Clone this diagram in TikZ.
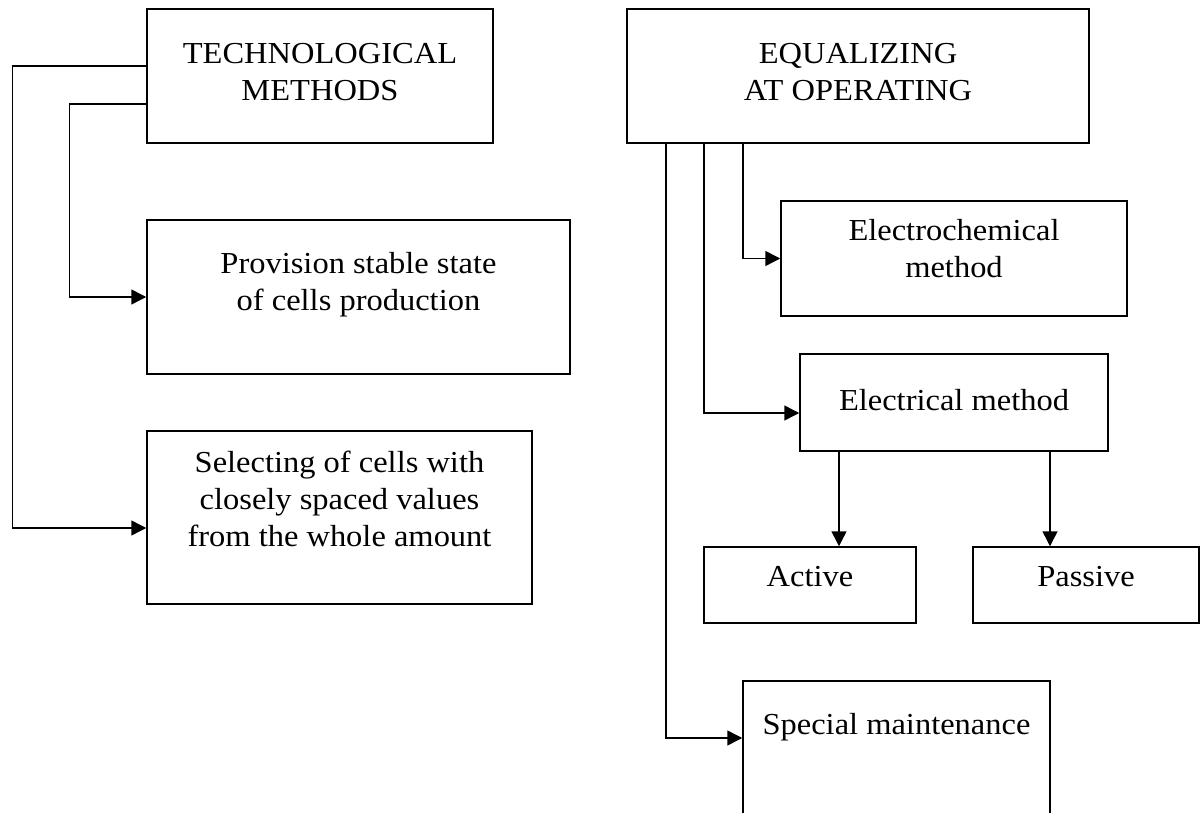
\documentclass[tikz,border=0pt]{standalone}
\usepackage{fontspec}
\setmainfont{Liberation Serif}[FakeStretch=1.065]
\usepackage{tikz}
\usetikzlibrary{arrows.meta}

\begin{document}
\begin{tikzpicture}[x=1pt,y=-1pt,line width=1.5pt,
  box/.style={draw,rectangle,inner sep=0pt},
  txt/.style={align=center,inner sep=0pt,font=\fontsize{30.5}{37}\selectfont},
  arr/.style={-{Triangle[length=15pt,width=15pt]}}]
	\useasboundingbox (0,0) rectangle (1200,813);
	\node[box,minimum width=346pt,minimum height=134pt] (tech) at (320,76) {};
	\node[txt] (techtxt) at (320,72.5) {TECHNOLOGICAL\\METHODS};
	\node[box,minimum width=462pt,minimum height=134pt] (eq) at (858,76) {};
	\node[txt] (eqtxt) at (858,72.5) {EQUALIZING\\AT OPERATING};
	\node[box,minimum width=423pt,minimum height=154pt] (prov) at (358.5,297) {};
	\node[txt] (provtxt) at (358.5,284.5) {Provision stable state\\of cells production};
	\node[box,minimum width=385pt,minimum height=173pt] (sel) at (339.5,517.5) {};
	\node[txt] (seltxt) at (339.5,498.5) {Selecting of cells with\\closely spaced values\\from the whole amount};
	\node[box,minimum width=346pt,minimum height=115pt] (elchem) at (954,258.5) {};
	\node[txt] (elchemtxt) at (954,248.5) {Electrochemical\\method};
	\node[box,minimum width=308pt,minimum height=97pt] (elec) at (954,402.5) {};
	\node[txt] (electxt) at (954,400) {Electrical method};
	\node[box,minimum width=212pt,minimum height=76pt] (act) at (810,585) {};
	\node[txt] (acttxt) at (810,577) {Active};
	\node[box,minimum width=226pt,minimum height=76pt] (pas) at (1086,585) {};
	\node[txt] (pastxt) at (1086,577) {Passive};
	\node[box,minimum width=307pt,minimum height=150pt] (spec) at (896.5,756) {};
	\node[txt] (spectxt) at (896.5,727) {Special maintenance};
	\draw[arr] ([yshift=10pt]tech.west) -- ++(-134pt,0) |- ([yshift=-10.5pt]sel.west);
	\draw[arr] ([yshift=-28pt]tech.west) -- ++(-77pt,0) |- (prov.west);
	\draw[arr] ([xshift=-115pt]eq.south) |- (elchem.west);
	\draw[arr] ([xshift=-154pt]eq.south) |- ([yshift=-10.5pt]elec.west);
	\draw[arr] ([xshift=-192pt]eq.south) |- ([yshift=18pt]spec.west);
	\draw[arr] ([xshift=-115pt]elec.south) -- ([xshift=-115pt]elec.south |- act.north);
	\draw[arr] ([xshift=96pt]elec.south) -- ([xshift=96pt]elec.south |- pas.north);
\end{tikzpicture}
\end{document}
